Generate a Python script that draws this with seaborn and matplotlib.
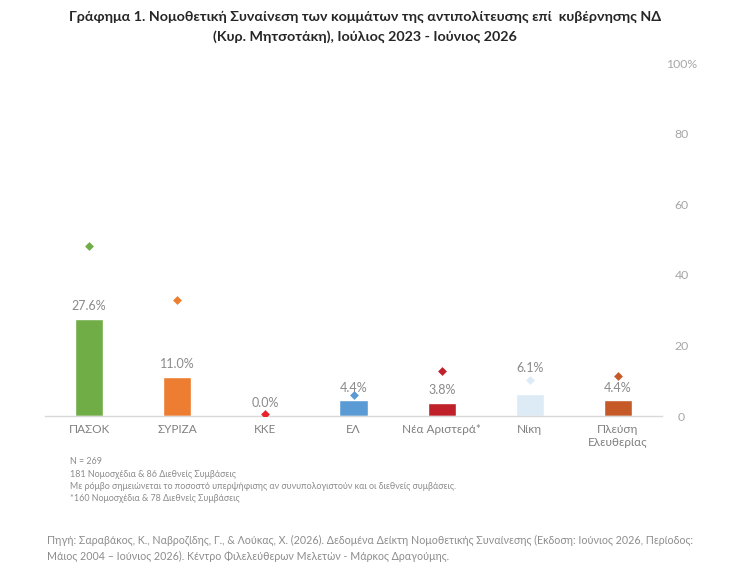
import matplotlib
matplotlib.use("Agg")
import matplotlib.pyplot as plt
import seaborn as sns
import pandas as pd

categories = ["ΠΑΣΟΚ", "ΣΥΡΙΖΑ", "ΚΚΕ", "ΕΛ", "Νέα Αριστερά*", "Νίκη", "Πλεύση\nΕλευθερίας"]
bar_values = [27.6, 11.0, 0.0, 4.4, 3.8, 6.1, 4.4]
diamond_values = [48.2, 32.9, 0.7, 6.0, 12.7, 10.3, 11.3]
bar_colors = ["#70AD47", "#ED7D31", "#E8232B", "#5B9BD5", "#C0202A", "#DDEBF7", "#C55A28"]
ytick_values = [0, 20, 40, 60, 80, 100]
ytick_labels = ["0", "20", "40", "60", "80", "100%"]

title = ("Γράφημα 1. Νομοθετική Συναίνεση των κομμάτων της αντιπολίτευσης επί  κυβέρνησης ΝΔ\n"
         "(Κυρ. Μητσοτάκη), Ιούλιος 2023 - Ιούνιος 2026")
notes = ["N = 269",
         "181 Νομοσχέδια & 86 Διεθνείς Συμβάσεις",
         "Με ρόμβο σημειώνεται το ποσοστό υπερψήφισης αν συνυπολογιστούν και οι διεθνείς συμβάσεις.",
         "*160 Νομοσχέδια & 78 Διεθνείς Συμβάσεις"]
source = ("Πηγή: Σαραβάκος, Κ., Ναβροζίδης, Γ., & Λούκας, Χ. (2026). Δεδομένα Δείκτη Νομοθετικής Συναίνεσης (Εκδοση: Ιούνιος 2026, Περίοδος:\n"
          "Μάιος 2004 – Ιούνιος 2026). Κέντρο Φιλελεύθερων Μελετών - Μάρκος Δραγούμης.")

df = pd.DataFrame({"party": categories, "bar": bar_values, "diamond": diamond_values})
palette = dict(zip(categories, bar_colors))

sns.set_style("white")
plt.rcParams["font.family"] = ["Lato", "DejaVu Sans"]

fig = plt.figure(figsize=(7.34, 5.79), dpi=100)
ax = fig.add_axes([0.0613, 0.2815, 0.8407, 0.6095])

sns.barplot(data=df, x="party", y="bar", hue="party", palette=palette, width=0.32,
            legend=False, ax=ax, saturation=1)
sns.stripplot(data=df, x="party", y="diamond", hue="party", palette=palette, jitter=False,
              marker="D", size=4.5, legend=False, ax=ax, zorder=5)

# label offsets in points (layout only)
label_offsets = [5, 5, 5, 5, 5, 15, 5]
for i, v in enumerate(bar_values):
    ax.annotate(f"{v:.1f}%", (i, v), xytext=(0, label_offsets[i]), textcoords="offset points",
                ha="center", va="bottom", fontsize=9, color="#8A8A8A", zorder=6)

ax.set_xlim(-0.5, 6.5)
ax.set_ylim(0, 100)
ax.set_yticks(ytick_values)
ax.set_yticklabels(ytick_labels)
ax.yaxis.tick_right()
ax.tick_params(axis="y", length=0, pad=14, labelsize=8.8, labelcolor="#A6A6A6")
for lbl in ax.get_yticklabels():
    lbl.set_horizontalalignment("center")
ax.tick_params(axis="x", length=0, pad=6, labelsize=8.5, labelcolor="#808080")
ax.set_xlabel("")
ax.set_ylabel("")
for s in ["top", "left", "right"]:
    ax.spines[s].set_visible(False)
ax.spines["bottom"].set_color("#D9D9D9")
ax.spines["bottom"].set_linewidth(1)

fig.text(0.497, 0.981, title, ha="center", va="top", fontsize=10.3, fontweight="bold",
         color="#262626", linespacing=1.65)

y0 = 1 - 462 / 579
for k, line in enumerate(notes):
    fig.text(70 / 734, y0 - k * 12.3 / 579, line, ha="left", va="center", fontsize=6.4, color="#8C8C8C")

fig.text(47 / 734, 1 - 535 / 579, source, ha="left", va="top", fontsize=7.7, color="#8C8C8C",
         linespacing=1.5)

fig.savefig("out.png", dpi=100)
